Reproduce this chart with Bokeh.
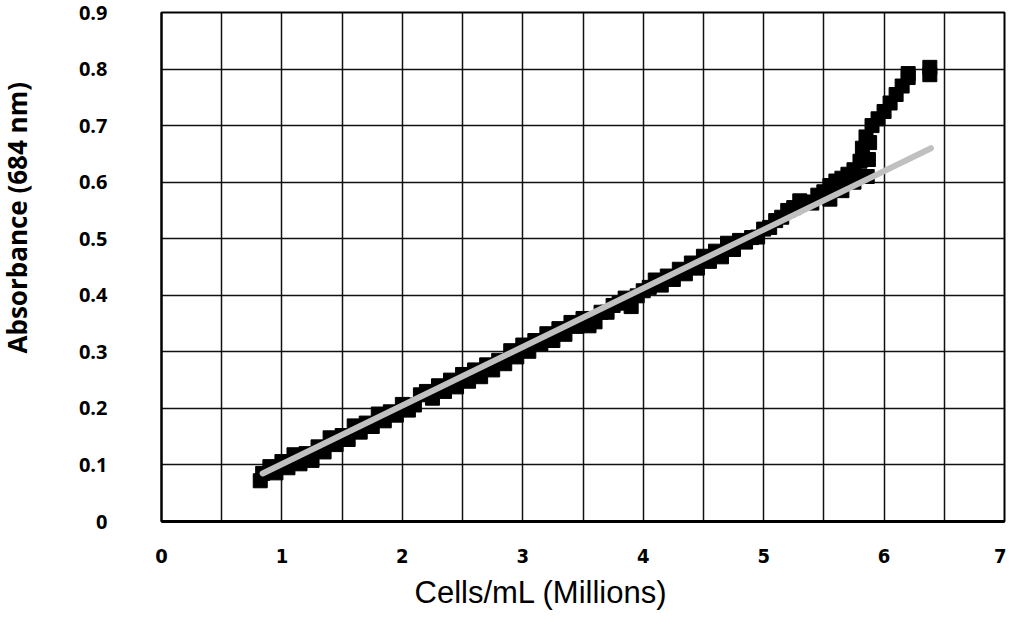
from bokeh.plotting import figure
from bokeh.models import Range1d, FixedTicker, Title
from bokeh.embed import file_html
from bokeh.resources import INLINE

# ---- data ----
cells = [0.82, 0.84, 0.90, 0.95, 1.00, 1.05, 1.10, 1.15, 1.20, 1.25, 1.30, 1.35, 1.40, 1.45,
         1.50, 1.55, 1.60, 1.65, 1.70, 1.75, 1.80, 1.85, 1.90, 1.95, 2.00, 2.05, 2.10, 2.15,
         2.20, 2.25, 2.30, 2.35, 2.40, 2.45, 2.50, 2.55, 2.60, 2.65, 2.70, 2.75, 2.80, 2.85,
         2.90, 2.95, 3.00, 3.05, 3.10, 3.15, 3.20, 3.25, 3.30, 3.35, 3.40, 3.45, 3.50, 3.55,
         3.60, 3.65, 3.70, 3.75, 3.80, 3.85, 3.90, 3.95, 4.00, 4.05, 4.10, 4.15, 4.20, 4.25,
         4.30, 4.35, 4.40, 4.45, 4.50, 4.55, 4.60, 4.65, 4.70, 4.75, 4.80, 4.85, 4.90, 4.95,
         5.00, 5.05, 5.10, 5.15, 5.20, 5.25, 5.30, 5.33, 5.40, 5.45, 5.50, 5.55, 5.55, 5.60,
         5.65, 5.65, 5.70, 5.75, 5.75, 5.80, 5.80, 5.82, 5.86, 5.87, 5.88, 5.85, 5.90, 5.95,
         6.00, 6.05, 6.10, 6.15, 6.20, 6.20, 6.38, 6.38]
absorbance = [0.072, 0.085, 0.097, 0.086, 0.106, 0.095, 0.118, 0.102, 0.120, 0.108, 0.132, 0.123,
              0.148, 0.136, 0.152, 0.145, 0.169, 0.158, 0.174, 0.168, 0.190, 0.178, 0.194, 0.188,
              0.207, 0.197, 0.206, 0.224, 0.230, 0.218, 0.240, 0.230, 0.250, 0.238, 0.260, 0.248,
              0.268, 0.256, 0.277, 0.268, 0.285, 0.279, 0.302, 0.291, 0.312, 0.301, 0.320, 0.314,
              0.332, 0.320, 0.341, 0.331, 0.352, 0.345, 0.359, 0.346, 0.353, 0.370, 0.370, 0.382,
              0.386, 0.395, 0.380, 0.399, 0.408, 0.414, 0.427, 0.418, 0.434, 0.428, 0.446, 0.438,
              0.457, 0.448, 0.469, 0.460, 0.478, 0.468, 0.492, 0.481, 0.497, 0.494, 0.502, 0.503,
              0.517, 0.520, 0.532, 0.538, 0.550, 0.555, 0.567, 0.565, 0.563, 0.577, 0.583, 0.594,
              0.570, 0.602, 0.607, 0.585, 0.614, 0.622, 0.600, 0.637, 0.610, 0.660, 0.610, 0.640,
              0.670, 0.680, 0.700, 0.712, 0.725, 0.740, 0.755, 0.770, 0.785, 0.792, 0.803, 0.790]

trend_x = [0.84, 6.39]
trend_y = [0.085, 0.66]

x_ticks = [0, 1, 2, 3, 4, 5, 6, 7]
x_grid = [0, 0.5, 1, 1.5, 2, 2.5, 3, 3.5, 4, 4.5, 5, 5.5, 6, 6.5, 7]
y_ticks = [0, 0.1, 0.2, 0.3, 0.4, 0.5, 0.6, 0.7, 0.8, 0.9]
x_title = "Cells/mL (Millions)"
y_title = "Absorbance (684 nm)"

p = figure(width=1006, height=617, output_backend="svg", toolbar_location=None,
           x_range=Range1d(0, 7), y_range=Range1d(0, 0.9),
           min_border_left=161, min_border_top=12, min_border_right=2, min_border_bottom=40)
p.background_fill_color = "white"
p.border_fill_color = "white"
p.outline_line_color = "black"
p.outline_line_width = 2

# grid
p.xgrid.ticker = FixedTicker(ticks=x_grid)
p.ygrid.ticker = FixedTicker(ticks=y_ticks)
for g in (p.xgrid, p.ygrid):
    g.grid_line_color = "#111111"
    g.grid_line_width = 1.5
    g.grid_line_alpha = 1.0

# axes
p.xaxis.ticker = FixedTicker(ticks=x_ticks)
p.yaxis.ticker = FixedTicker(ticks=y_ticks)
p.yaxis.major_label_overrides = {0: "0"}
for ax in (p.xaxis, p.yaxis):
    ax.major_tick_line_color = None
    ax.minor_tick_line_color = None
p.xaxis.axis_line_color = "black"
p.xaxis.axis_line_width = 3
p.yaxis.axis_line_color = "black"
p.yaxis.axis_line_width = 2

p.xaxis.major_label_text_font = "'DejaVu Sans Condensed', 'Liberation Sans', sans-serif"
p.xaxis.major_label_text_font_style = "bold"
p.xaxis.major_label_text_font_size = "20px"
p.xaxis.major_label_text_color = "black"
p.xaxis.major_label_standoff = 21

p.yaxis.major_label_text_font = "Open Sans"
p.yaxis.major_label_text_font_style = "bold"
p.yaxis.major_label_text_font_size = "20px"
p.yaxis.major_label_text_color = "black"
p.yaxis.major_label_text_align = "center"
p.yaxis.major_label_standoff = 48
# invisible blank axis label used only as spacing so the title sits at the left edge
p.yaxis.axis_label = "\u00a0"
p.yaxis.axis_label_standoff = 37
p.yaxis.axis_label_text_font_size = "2px"
p.yaxis.axis_label_text_alpha = 0

# axis titles as side titles so they can sit off-centre like the reference
p.add_layout(Title(text=x_title, align="left", offset=253, standoff=15,
                   vertical_align="bottom",
                   text_font="Liberation Sans", text_font_style="normal",
                   text_font_size="31px", text_color="black"), "below")
p.add_layout(Title(text=y_title, align="left", offset=168, standoff=-6,
                   vertical_align="top",
                   text_font="Open Sans", text_font_style="bold",
                   text_font_size="26px", text_color="black"), "left")

# data
p.scatter(cells, absorbance, marker="square", size=14, fill_color="black", line_color="black")
p.line(trend_x, trend_y, line_color="#c0c0c0", line_width=6, line_cap="round")

open("out.html", "w").write(file_html(p, INLINE))
